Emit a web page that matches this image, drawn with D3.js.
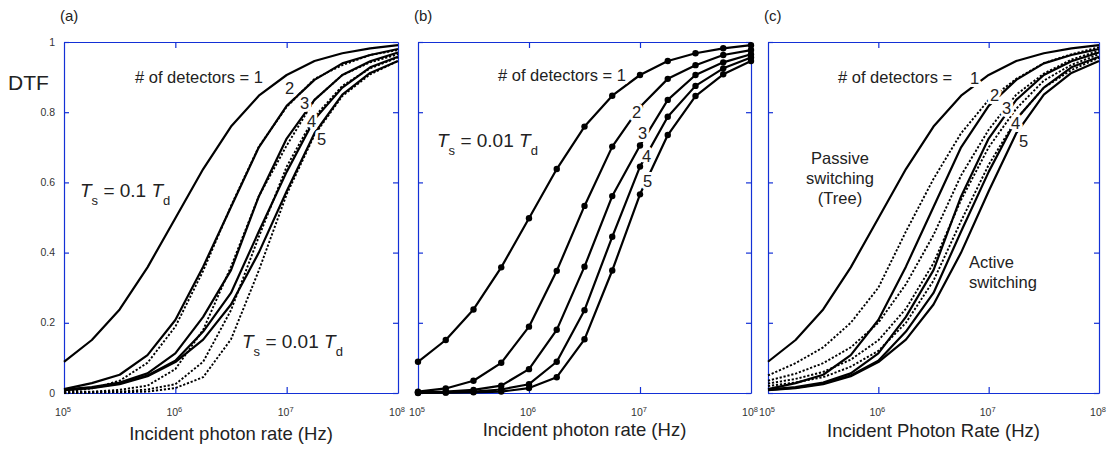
<!DOCTYPE html>
<html>
<head>
<script src="https://d3js.org/d3.v7.min.js"></script>
<style>
  body { margin: 0; background: #fff; }
  text { font-family: "Liberation Sans", Arial, sans-serif; fill: #222; }
</style>
</head>
<body>
<script>
// photon rate exponents (10^x Hz), same grid for every curve
var rateExp = [5, 5.25, 5.5, 5.75, 6, 6.25, 6.5, 6.75, 7, 7.25, 7.5, 7.75, 8];
var xTickExp = [5, 6, 7, 8];
var yTicks = [0, 0.2, 0.4, 0.6, 0.8, 1];
var yTickLabels = ["0", "0.2", "0.4", "0.6", "0.8", "1"];

// one detector
var det1 = [0.089, 0.151, 0.238, 0.358, 0.498, 0.638, 0.759, 0.847, 0.906, 0.946, 0.968, 0.982, 0.991];

// Ts = 0.1 Td, 2..5 detectors (also active switching)
var tenth2 = [0.011, 0.028, 0.052, 0.108, 0.208, 0.360, 0.530, 0.700, 0.818, 0.892, 0.939, 0.963, 0.980];
var tenth3 = [0.010, 0.017, 0.030, 0.056, 0.113, 0.217, 0.350, 0.560, 0.725, 0.835, 0.906, 0.945, 0.970];
var tenth4 = [0.009, 0.015, 0.027, 0.050, 0.092, 0.175, 0.285, 0.460, 0.630, 0.780, 0.870, 0.928, 0.958];
var tenth5 = [0.008, 0.014, 0.025, 0.048, 0.088, 0.152, 0.252, 0.400, 0.575, 0.740, 0.850, 0.912, 0.946];

// Ts = 0.01 Td, 2..5 detectors
var hund2 = [0.004, 0.013, 0.035, 0.086, 0.189, 0.348, 0.533, 0.702, 0.815, 0.895, 0.934, 0.963, 0.977];
var hund3 = [0.002, 0.004, 0.009, 0.021, 0.068, 0.180, 0.360, 0.561, 0.705, 0.835, 0.906, 0.942, 0.965];
var hund4 = [0.001, 0.002, 0.004, 0.010, 0.025, 0.089, 0.236, 0.445, 0.645, 0.787, 0.875, 0.925, 0.956];
var hund5 = [0.000, 0.001, 0.002, 0.004, 0.014, 0.045, 0.153, 0.349, 0.566, 0.735, 0.846, 0.908, 0.946];

// passive switching (tree), 2..5 detectors
var passive2 = [0.050, 0.085, 0.130, 0.200, 0.300, 0.460, 0.610, 0.740, 0.835, 0.895, 0.940, 0.965, 0.985];
var passive3 = [0.035, 0.055, 0.085, 0.130, 0.200, 0.310, 0.450, 0.620, 0.750, 0.850, 0.910, 0.950, 0.975];
var passive4 = [0.027, 0.040, 0.060, 0.095, 0.150, 0.240, 0.370, 0.550, 0.700, 0.810, 0.890, 0.935, 0.965];
var passive5 = [0.020, 0.030, 0.045, 0.075, 0.120, 0.200, 0.320, 0.490, 0.650, 0.780, 0.870, 0.920, 0.955];

var blue = "#1330d6";
var W = 1109, H = 455, plotTop = 42, plotBottom = 393;

var svg = d3.select("body").append("svg")
  .attr("width", W).attr("height", H);

function makePanel(x0, x1, tag, title, yLabels) {
  var x = d3.scaleLog().domain([1e5, 1e8]).range([x0, x1]);
  var y = d3.scaleLinear().domain([0, 1]).range([plotBottom, plotTop]);
  var g = svg.append("g");

  // box + inward ticks on all four sides
  var axes = [
    [d3.axisBottom(x).tickValues([1e6, 1e7]).tickSize(-6), "translate(0," + plotBottom + ")"],
    [d3.axisTop(x).tickValues([1e6, 1e7]).tickSize(-6), "translate(0," + plotTop + ")"],
    [d3.axisLeft(y).tickValues(yTicks).tickSize(-5), "translate(" + x0 + ",0)"],
    [d3.axisRight(y).tickValues(yTicks).tickSize(-5), "translate(" + x1 + ",0)"]
  ];
  axes.forEach(function(a) {
    var ax = g.append("g").attr("transform", a[1])
      .call(a[0].tickSizeOuter(0).tickFormat(""));
    ax.selectAll("path,line").attr("stroke", blue).attr("stroke-width", 1.2);
  });

  // x tick labels 10^n
  xTickExp.forEach(function(e) {
    var t = g.append("text").attr("x", x(Math.pow(10, e)) - 1).attr("y", 416)
      .attr("text-anchor", "middle").style("font-size", "10.5px").style("fill", "#333");
    t.append("tspan").text("10");
    t.append("tspan").attr("dy", -4.5).style("font-size", "7.5px").text(e);
  });

  if (yLabels) {
    yTicks.forEach(function(v, i) {
      g.append("text").attr("x", 55).attr("y", y(v) + 3.5)
        .attr("text-anchor", "end").style("font-size", "10.5px").style("fill", "#333")
        .text(yTickLabels[i]);
    });
  }

  g.append("text").attr("x", x0 - 4).attr("y", 21)
    .style("font-size", "15px").text(tag);

  g.append("text").attr("x", (x0 + x1) / 2 + title[1]).attr("y", title[2])
    .attr("text-anchor", "middle").style("font-size", "18.5px").text(title[0]);

  var line = d3.line()
    .x(function(d, i) { return x(Math.pow(10, rateExp[i])); })
    .y(function(d) { return y(d); });

  return { g: g, x: x, y: y, line: line };
}

function drawCurve(p, vals, dotted, dots) {
  p.g.append("path").datum(vals)
    .attr("d", p.line)
    .attr("fill", "none")
    .attr("stroke", "#000")
    .attr("stroke-width", dotted ? 1.9 : 2.2)
    .attr("stroke-dasharray", dotted ? "2.2,1.8" : null)
    .attr("stroke-linejoin", "round");
  if (dots) {
    p.g.selectAll(null).data(vals).enter().append("circle")
      .attr("cx", function(d, i) { return p.x(Math.pow(10, rateExp[i])); })
      .attr("cy", function(d) { return p.y(d); })
      .attr("r", 3.2).attr("fill", "#000");
  }
}

function label(p, txt, x, y, size, halo) {
  var t = p.g.append("text").attr("x", x).attr("y", y)
    .style("font-size", (size || 16.5) + "px").text(txt);
  if (halo) {
    t.style("stroke", "#fff").style("stroke-width", 6)
      .style("paint-order", "stroke").style("stroke-linejoin", "round");
  }
  return t;
}

function tsLabel(p, x, y, val) {
  var t = p.g.append("text").attr("x", x).attr("y", y).style("font-size", "19px");
  t.append("tspan").style("font-style", "italic").text("T");
  t.append("tspan").attr("dy", 8).style("font-size", "13px").text("s");
  t.append("tspan").attr("dy", -8).text(" = " + val + " ");
  t.append("tspan").style("font-style", "italic").text("T");
  t.append("tspan").attr("dy", 8).style("font-size", "13px").text("d");
}

// ---- panel (a)
var pa = makePanel(64, 398, "(a)", ["Incident photon rate (Hz)", 0, 440], true);
[hund2, hund3, hund4, hund5].forEach(function(c) { drawCurve(pa, c, true); });
[det1, tenth2, tenth3, tenth4, tenth5].forEach(function(c) { drawCurve(pa, c, false); });
svg.append("text").attr("x", 8).attr("y", 90).style("font-size", "21px").text("DTF");
label(pa, "# of detectors = 1", 135, 83);
label(pa, "2", 285, 94, 16.5, true);
label(pa, "3", 300, 109, 16.5, true);
label(pa, "4", 307, 127, 16.5, true);
label(pa, "5", 317, 145, 16.5, true);
tsLabel(pa, 80, 197, "0.1");
tsLabel(pa, 242, 348, "0.01");

// ---- panel (b)
var pb = makePanel(418, 751, "(b)", ["Incident photon rate (Hz)", 0, 436], false);
[det1, hund2, hund3, hund4, hund5].forEach(function(c) { drawCurve(pb, c, false, true); });
label(pb, "# of detectors = 1", 498, 81, 16.5, true);
label(pb, "2", 632, 118, 16.5, true);
label(pb, "3", 638, 139, 16.5, true);
label(pb, "4", 642, 162, 16.5, true);
label(pb, "5", 643, 187, 16.5, true);
tsLabel(pb, 437, 147, "0.01");

// ---- panel (c)
var pc = makePanel(768, 1099, "(c)", ["Incident Photon Rate (Hz)", 0, 437], false);
[passive2, passive3, passive4, passive5].forEach(function(c) { drawCurve(pc, c, true); });
[det1, tenth2, tenth3, tenth4, tenth5].forEach(function(c) { drawCurve(pc, c, false); });
label(pc, "# of detectors =", 838, 83);
label(pc, "1", 970, 84, 16.5, true);
label(pc, "2", 990, 101, 16.5, true);
label(pc, "3", 1002, 114, 16.5, true);
label(pc, "4", 1011, 129, 16.5, true);
label(pc, "5", 1019, 147, 16.5, true);
["Passive", "switching", "(Tree)"].forEach(function(s, i) {
  pc.g.append("text").attr("x", 840).attr("y", 164 + i * 20)
    .attr("text-anchor", "middle").style("font-size", "16.5px").text(s);
});
["Active", "switching"].forEach(function(s, i) {
  pc.g.append("text").attr("x", 969).attr("y", 268 + i * 20)
    .style("font-size", "16.5px").text(s);
});
</script>
</body>
</html>
